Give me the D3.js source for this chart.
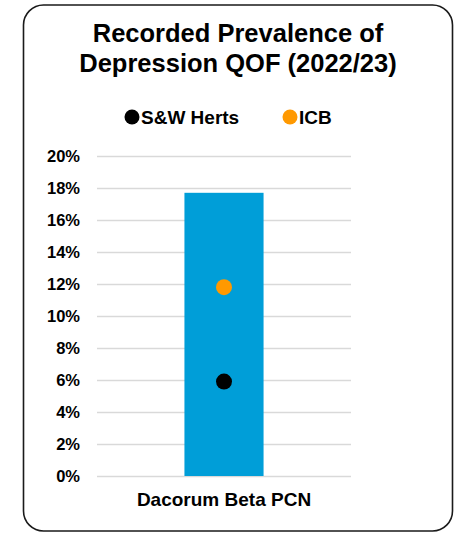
<!DOCTYPE html>
<html>
<head>
<meta charset="utf-8">
<script src="https://cdn.jsdelivr.net/npm/d3@7"></script>
<style>
  body { margin: 0; background: #fff; }
  text { font-family: "Liberation Sans", Arial, sans-serif; font-weight: bold; fill: #000; }
</style>
</head>
<body>
<svg width="454" height="533"></svg>
<script>
const categories = ['Dacorum Beta PCN'];
const pcnValues = [0.177];
const swHertsValues = [0.059];
const icbValues = [0.118];
const yTicks = [0, 0.02, 0.04, 0.06, 0.08, 0.10, 0.12, 0.14, 0.16, 0.18, 0.20];
const titleLines = ['Recorded Prevalence of', 'Depression QOF (2022/23)'];
const legendItems = [
  { label: 'S&W Herts', color: '#000000' },
  { label: 'ICB', color: '#ff9900' }
];

const svg = d3.select('svg');

// outer rounded frame
svg.append('rect')
  .attr('x', 23.5)
  .attr('y', 5)
  .attr('width', 429)
  .attr('height', 526)
  .attr('rx', 20)
  .attr('fill', '#fff')
  .attr('stroke', '#1a1a1a')
  .attr('stroke-width', 1.6);

svg.append('g')
  .selectAll('text')
  .data(titleLines)
  .join('text')
  .attr('x', 238)
  .attr('y', (d, i) => 42 + i * 29.5)
  .attr('text-anchor', 'middle')
  .attr('font-size', 25.5)
  .text(d => d);

// legend
const legendX = [132, 290];
const legend = svg.append('g')
  .selectAll('g')
  .data(legendItems)
  .join('g')
  .attr('transform', (d, i) => `translate(${legendX[i]}, 117)`);
legend.append('circle')
  .attr('r', 7.5)
  .attr('fill', d => d.color);
legend.append('text')
  .attr('x', 9)
  .attr('y', 7)
  .attr('font-size', 19)
  .text(d => d.label);

const margin = { top: 156, left: 97, right: 103, bottom: 57 };
const innerWidth = 454 - margin.left - margin.right;
const innerHeight = 476 - margin.top;

const g = svg.append('g')
  .attr('transform', `translate(${margin.left}, ${margin.top})`);

const xScale = d3.scaleBand()
  .domain(categories)
  .range([0, innerWidth])
  .padding(0.525);

const yScale = d3.scaleLinear()
  .domain([0, 0.2])
  .range([innerHeight, 0]);

const yAxis = d3.axisLeft(yScale)
  .tickValues(yTicks)
  .tickFormat(d3.format('.0%'))
  .tickSize(-innerWidth)
  .tickPadding(17);

const yAxisGroup = g.append('g').call(yAxis);
yAxisGroup.select('.domain').remove();
yAxisGroup.selectAll('line')
  .attr('stroke', '#d9d9d9')
  .attr('stroke-width', 1.5);
yAxisGroup.selectAll('text')
  .attr('font-size', 16.5)
  .attr('font-family', '"Liberation Sans", Arial, sans-serif')
  .attr('font-weight', 'bold')
  .attr('fill', '#000');

g.selectAll('rect.bar')
  .data(categories)
  .join('rect')
  .attr('class', 'bar')
  .attr('x', d => xScale(d))
  .attr('y', (d, i) => yScale(pcnValues[i]))
  .attr('width', xScale.bandwidth())
  .attr('height', (d, i) => innerHeight - yScale(pcnValues[i]))
  .attr('fill', '#009ed8');

const cx = d => xScale(d) + xScale.bandwidth() / 2;

g.selectAll('circle.icb')
  .data(categories)
  .join('circle')
  .attr('class', 'icb')
  .attr('cx', cx)
  .attr('cy', (d, i) => yScale(icbValues[i]))
  .attr('r', 8)
  .attr('fill', '#ff9900');

g.selectAll('circle.sw')
  .data(categories)
  .join('circle')
  .attr('class', 'sw')
  .attr('cx', cx)
  .attr('cy', (d, i) => yScale(swHertsValues[i]))
  .attr('r', 8)
  .attr('fill', '#000');

const xAxisGroup = g.append('g')
  .attr('transform', `translate(0, ${innerHeight})`)
  .call(d3.axisBottom(xScale).tickSize(0));
xAxisGroup.select('.domain').remove();
xAxisGroup.selectAll('text')
  .attr('dy', null)
  .attr('y', 29.5)
  .attr('font-size', 19)
  .attr('font-family', '"Liberation Sans", Arial, sans-serif')
  .attr('font-weight', 'bold')
  .attr('fill', '#000');
</script>
</body>
</html>
